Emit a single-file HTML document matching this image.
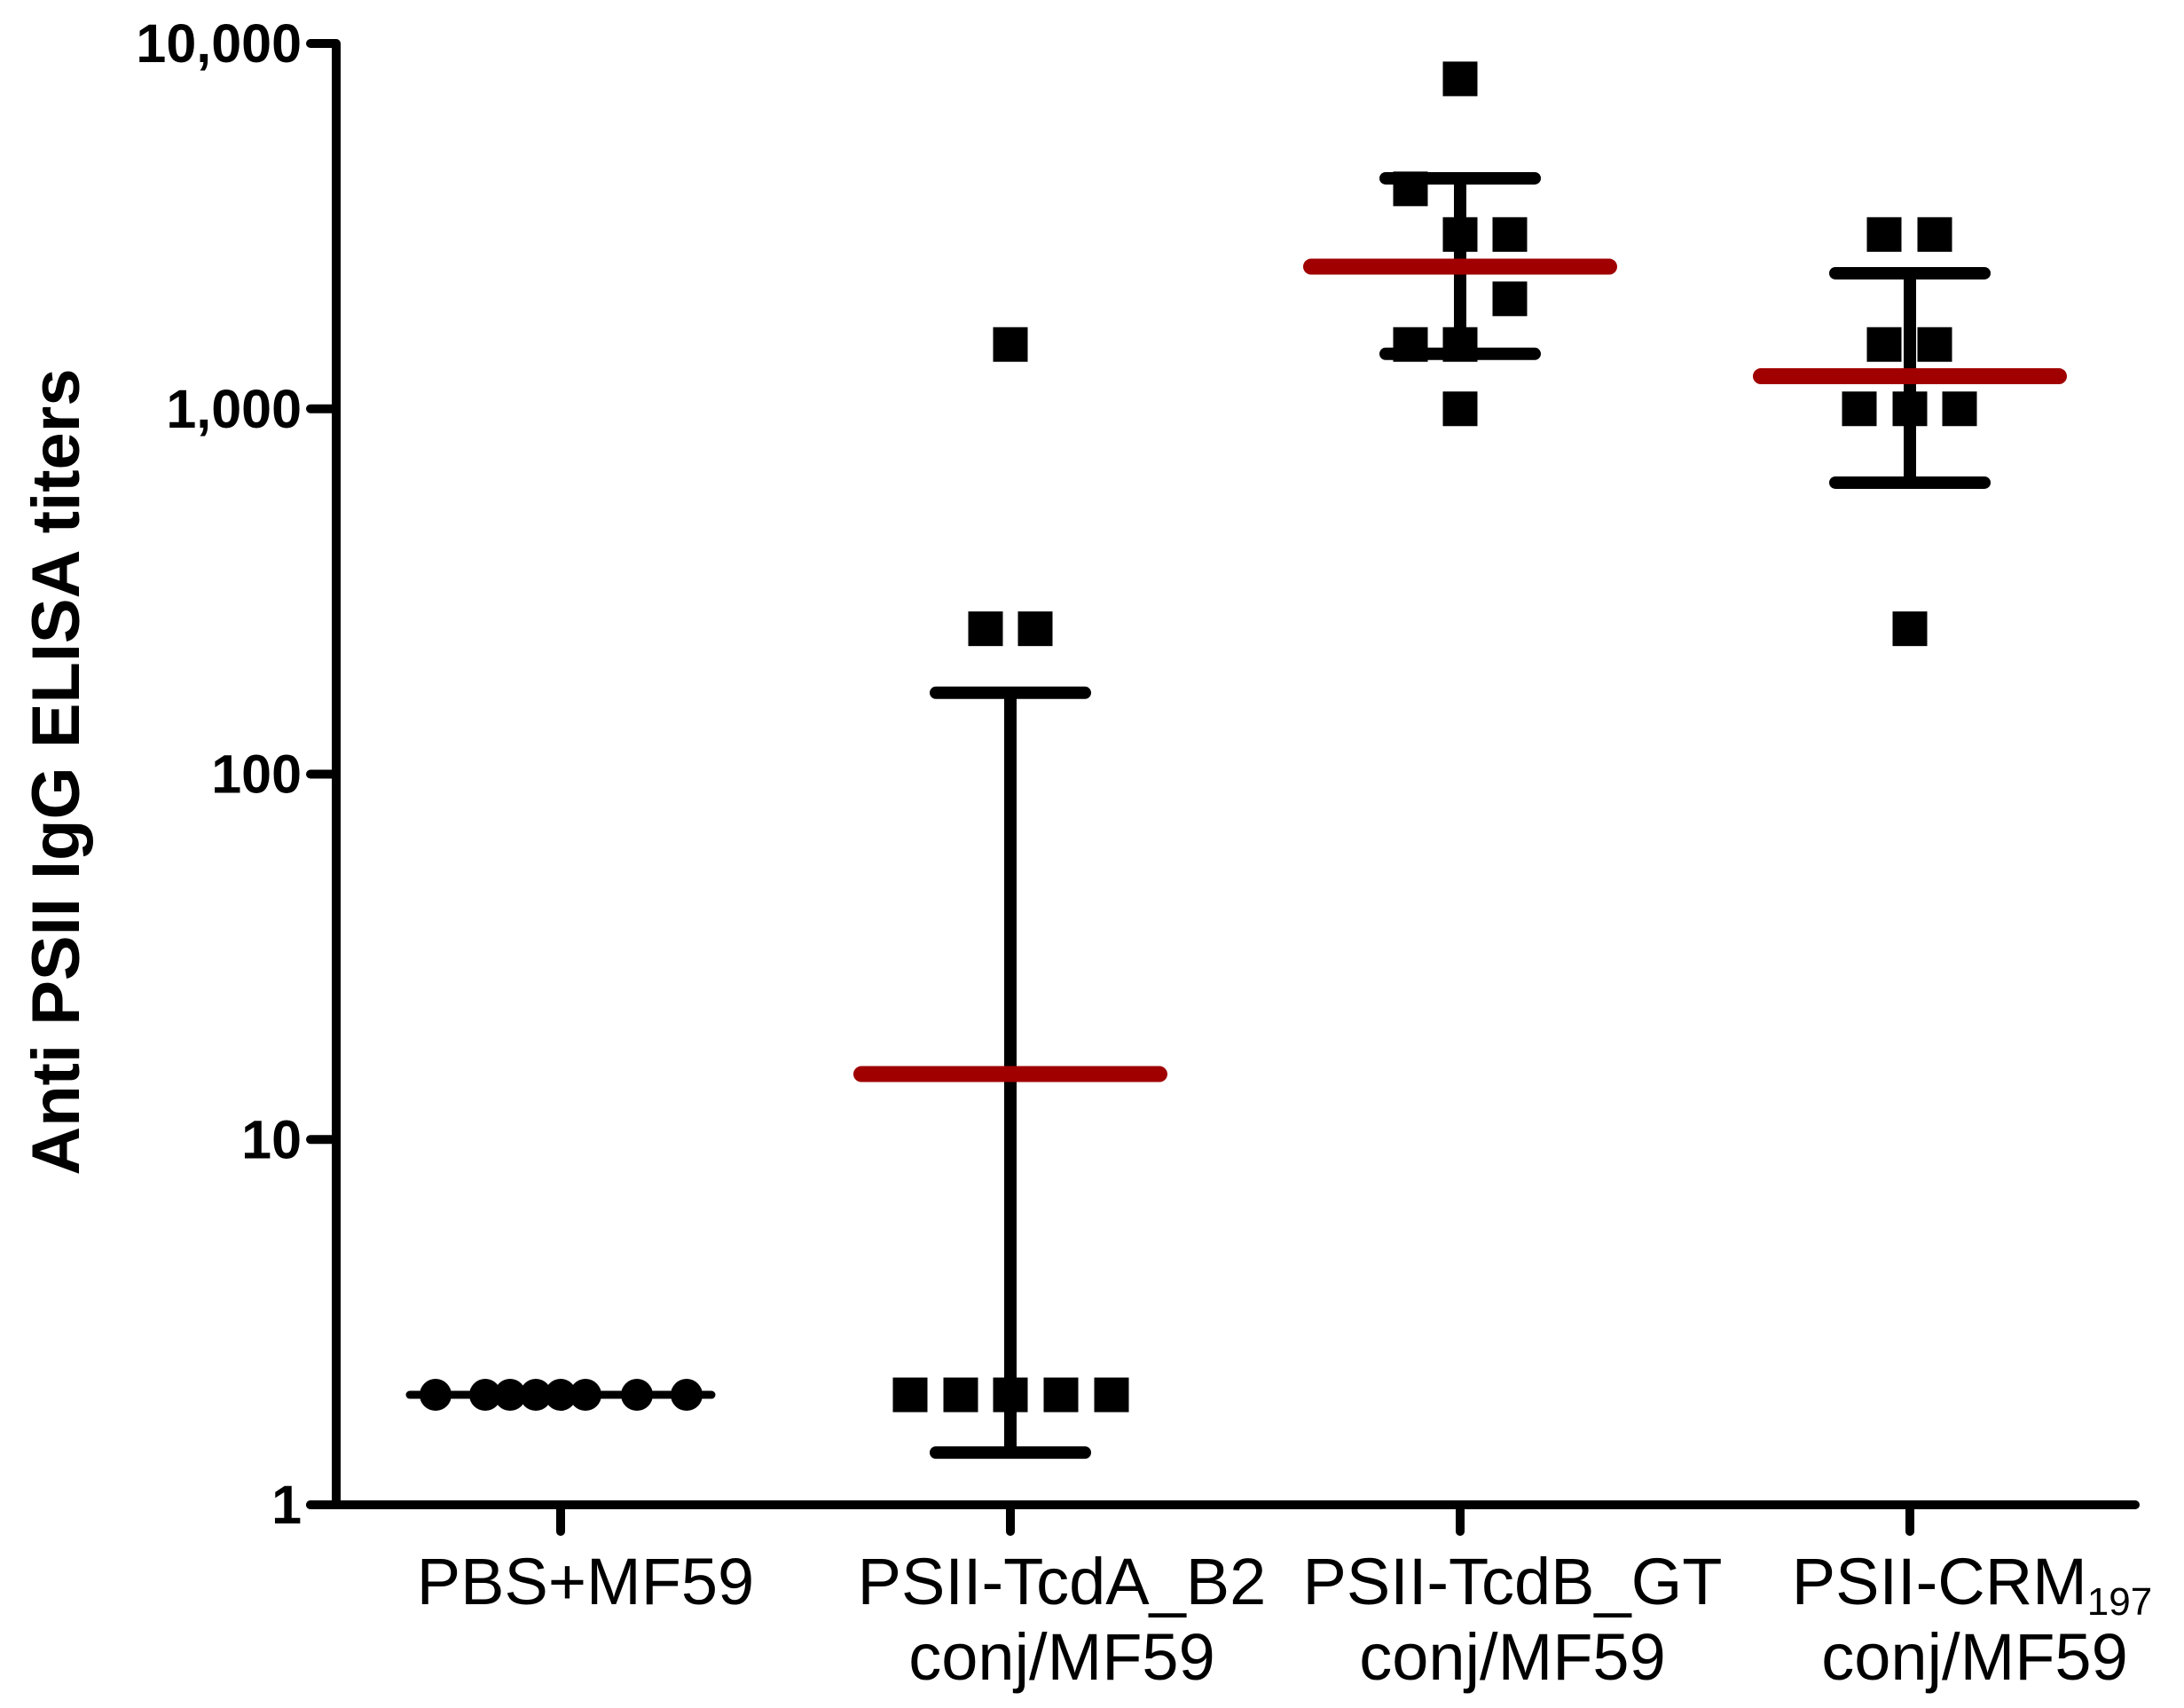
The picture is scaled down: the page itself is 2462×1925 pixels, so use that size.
<!DOCTYPE html>
<html><head><meta charset="utf-8"><style>html,body{margin:0;padding:0;background:#fff}svg{display:block}</style></head>
<body>
<svg id="chart" width="2462" height="1925" viewBox="0 0 2462 1925" xmlns="http://www.w3.org/2000/svg" font-family="Liberation Sans, Arial, sans-serif"></svg>
<script>
const categories = ["PBS+MF59", "PSII-TcdA_B2", "PSII-TcdB_GT", "PSII-CRM197"];
const g1Values = [2, 2, 2, 2, 2, 2, 2, 2];
const g1Offsets = [-141, -85, -57, -28, 0, 28, 86, 142];
const g2Values = [1500, 250, 250, 2, 2, 2, 2, 2];
const g2Offsets = [0, -28, 28, -113, -56, 0, 57, 114];
const g3Values = [8000, 4000, 3000, 3000, 2000, 1500, 1500, 1000];
const g3Offsets = [0, -56, 0, 56, 56, -56, 0, 0];
const g4Values = [3000, 3000, 1500, 1500, 1000, 1000, 1000, 250];
const g4Offsets = [-29, 28, -29, 28, -57, 0, 56, 0];
const means = [2, 15.1, 2450, 1228];
const upperErr = [null, 167, 4275, 2350];
const lowerErr = [null, 1.39, 1414, 628];
const yTicks = [1, 10, 100, 1000, 10000];
const yTickLabels = ["1", "10", "100", "1,000", "10,000"];

const NS = "http://www.w3.org/2000/svg";
const svg = document.getElementById("chart");
const X0 = 379, Y0 = 1696, DEC = 411.75;
const xPos = i => 632 + i * 507;
const yPos = v => Y0 - Math.log10(v) * DEC;
function mk(tag, attrs, parent) {
  const e = document.createElementNS(NS, tag);
  for (const k in attrs) e.setAttribute(k, attrs[k]);
  (parent || svg).appendChild(e);
  return e;
}
// axes
let e = mk("line", {x1: X0, y1: 49, x2: X0, y2: Y0 + 5, stroke: "#000", "stroke-width": 10});


e = mk("line", {x1: 350, y1: Y0, x2: 2407, y2: Y0, stroke: "#000", "stroke-width": 10, "stroke-linecap": "round"});


yTicks.forEach((v, i) => {
  const y = yPos(v);
  let t = mk("line", {x1: 350, y1: y, x2: X0, y2: y, stroke: "#000", "stroke-width": 10, "stroke-linecap": "round"});
  
  
  let l = mk("text", {x: 340, y: y + 21, "text-anchor": "end", "font-size": 61, "font-weight": "bold"});
  l.textContent = yTickLabels[i];
  
  
});
categories.forEach((c, i) => {
  let t = mk("line", {x1: xPos(i), y1: Y0, x2: xPos(i), y2: Y0 + 30, stroke: "#000", "stroke-width": 10, "stroke-linecap": "round"});
  
  
});
// x labels
const labelCenters = [660, 1197, 1705, 2223];
function xLabel(txt, x, y, name) {
  const t = mk("text", {x: x, y: y, "text-anchor": "middle", "font-size": 74});
  t.textContent = txt;
  
  
  return t;
}
xLabel(categories[0], labelCenters[0], 1808, 'x-label-pbs');
xLabel(categories[1], labelCenters[1], 1808, 'x-label-tcda');
xLabel("conj/MF59", labelCenters[1], 1893, 'x-label-tcda-line2');
xLabel(categories[2], labelCenters[2], 1808, 'x-label-tcdb');
xLabel("conj/MF59", labelCenters[2], 1893, 'x-label-tcdb-line2');
const crm = mk("text", {x: labelCenters[3], y: 1808, "text-anchor": "middle", "font-size": 74});


crm.appendChild(document.createTextNode("PSII-CRM"));
const sub = mk("tspan", {"font-size": 44, dy: 12}, crm);
sub.textContent = "197";
xLabel("conj/MF59", labelCenters[3] + 3, 1893, 'x-label-crm-line2');
// y title
const yt = mk("text", {x: 0, y: 0, "text-anchor": "middle", "font-size": 76, "font-weight": "bold", transform: "translate(89,870) rotate(-90)"});
yt.textContent = "Anti PSII IgG ELISA titers";


// error bars
[1, 2, 3].forEach(i => {
  const x = xPos(i);
  let v = mk("line", {x1: x, y1: yPos(upperErr[i]), x2: x, y2: yPos(lowerErr[i]), stroke: "#000", "stroke-width": 14});
  
  
  [upperErr[i], lowerErr[i]].forEach(val => {
    let c = mk("line", {x1: x - 84, y1: yPos(val), x2: x + 84, y2: yPos(val), stroke: "#000", "stroke-width": 14, "stroke-linecap": "round"});
    
    
  });
});
// group 1 mean line (black)
let m1 = mk("line", {x1: xPos(0) - 170, y1: yPos(means[0]), x2: xPos(0) + 170, y2: yPos(means[0]), stroke: "#000", "stroke-width": 9, "stroke-linecap": "round"});


// points
g1Values.forEach((v, k) => {
  const c = mk("circle", {cx: xPos(0) + g1Offsets[k], cy: yPos(v), r: 18, fill: "#000"});
  
  
});
[[g2Values, g2Offsets, 1], [g3Values, g3Offsets, 2], [g4Values, g4Offsets, 3]].forEach(([vals, offs, gi]) => {
  vals.forEach((v, k) => {
    const r = mk("rect", {x: xPos(gi) + offs[k] - 19.5, y: yPos(v) - 19.5, width: 39, height: 39, fill: "#000"});
    
    
  });
});
// red mean lines
[1, 2, 3].forEach(i => {
  const m = mk("line", {x1: xPos(i) - 168, y1: yPos(means[i]), x2: xPos(i) + 168, y2: yPos(means[i]), stroke: "#a00000", "stroke-width": 18, "stroke-linecap": "round"});
  
  
});
</script>
</body></html>
